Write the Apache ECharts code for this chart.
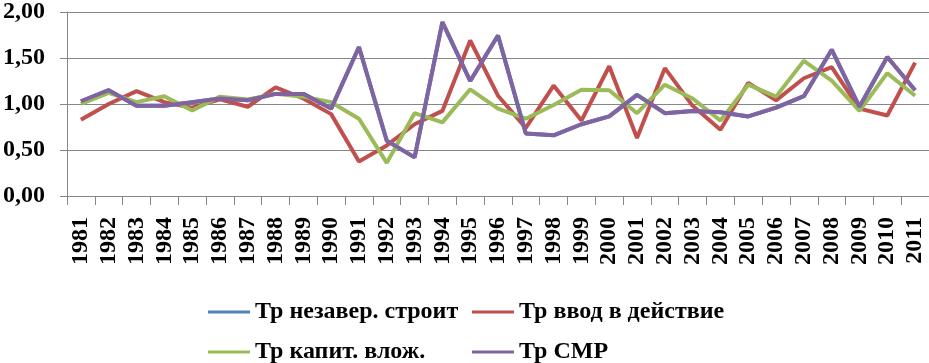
<!DOCTYPE html>
<html><head><meta charset="utf-8">
<script src="https://cdn.jsdelivr.net/npm/echarts@6/dist/echarts.min.js"></script>
<style>html,body{margin:0;padding:0;background:#fff}#c{width:929px;height:363px}</style>
</head><body><div id="c"></div>
<script>
var years = ['1981','1982','1983','1984','1985','1986','1987','1988','1989','1990','1991','1992','1993','1994','1995','1996','1997','1998','1999','2000','2001','2002','2003','2004','2005','2006','2007','2008','2009','2010','2011'];
var seriesNames = ['Тр незавер. строит','Тр ввод в действие','Тр капит. влож.','Тр СМР'];
var trNezaver = [1.03,1.15,0.98,0.98,1.02,1.06,1.04,1.11,1.11,0.95,1.62,0.60,0.42,1.89,1.25,1.745,0.68,0.66,0.78,0.865,1.10,0.90,0.925,0.91,0.865,0.96,1.085,1.59,0.97,1.51,1.15];
var trVvod = [0.83,1.00,1.14,1.02,0.96,1.05,0.97,1.18,1.06,0.89,0.375,0.55,0.78,0.925,1.69,1.09,0.74,1.20,0.82,1.41,0.63,1.39,0.98,0.72,1.23,1.04,1.28,1.40,0.95,0.875,1.45];
var trKapit = [1.00,1.12,1.02,1.085,0.93,1.08,1.05,1.11,1.08,1.02,0.84,0.36,0.90,0.80,1.16,0.95,0.84,0.99,1.155,1.15,0.90,1.21,1.06,0.82,1.21,1.08,1.47,1.255,0.925,1.335,1.09];
var trSMR = [1.03,1.15,0.98,0.98,1.02,1.06,1.04,1.11,1.11,0.95,1.62,0.60,0.42,1.89,1.25,1.745,0.68,0.66,0.78,0.865,1.10,0.90,0.925,0.91,0.865,0.96,1.085,1.59,0.97,1.51,1.15];
var yTicks = {min:0, max:2, interval:0.5};

var colors = ['#4F81BD','#C0504D','#9BBB59','#8064A2'];
var font = 'Liberation Serif';
var dataArr = [trNezaver, trVvod, trKapit, trSMR];
function legendAt(i, left, top){
  return {data:[seriesNames[i]], left:left, top:top, orient:'horizontal',
    itemWidth:42, itemHeight:14, itemGap:0, padding:0,
    icon:'path://M0,5.5 L42,5.5 L42,8.5 L0,8.5 Z',
    textStyle:{fontFamily:font, fontWeight:'bold', fontSize:24, color:'#000', lineHeight:24}};
}
var chart = echarts.init(document.getElementById('c'), null, {renderer:'canvas'});
chart.setOption({
  animation:false,
  color:colors,
  grid:{left:67, right:0, top:8, bottom:167, containLabel:false},
  legend:[legendAt(0,208,300),legendAt(1,472,300),legendAt(2,208,340),legendAt(3,472,340)],
  xAxis:{type:'category', data:years, boundaryGap:true,
    axisLine:{lineStyle:{color:'#868686', width:1}},
    axisTick:{show:true, length:9, alignWithLabel:false, lineStyle:{color:'#868686'}},
    axisLabel:{rotate:90, interval:0, margin:21, fontFamily:font, fontWeight:'bold', fontSize:24, color:'#000'}},
  yAxis:{type:'value', min:yTicks.min, max:yTicks.max, interval:yTicks.interval,
    axisLine:{show:true, lineStyle:{color:'#868686', width:1}},
    axisTick:{show:true, length:7, lineStyle:{color:'#868686'}},
    splitLine:{show:true, lineStyle:{color:'#868686', width:1}},
    axisLabel:{margin:22, fontFamily:font, fontWeight:'bold', fontSize:24, color:'#000',
      formatter:function(v){return v.toFixed(2).replace('.',',');}}},
  series:dataArr.map(function(d,i){
    return {name:seriesNames[i], type:'line', data:d, symbol:'none', smooth:false,
      lineStyle:{width:4, color:colors[i]}, itemStyle:{color:colors[i]}, z:2+i};
  })
});
</script></body></html>
